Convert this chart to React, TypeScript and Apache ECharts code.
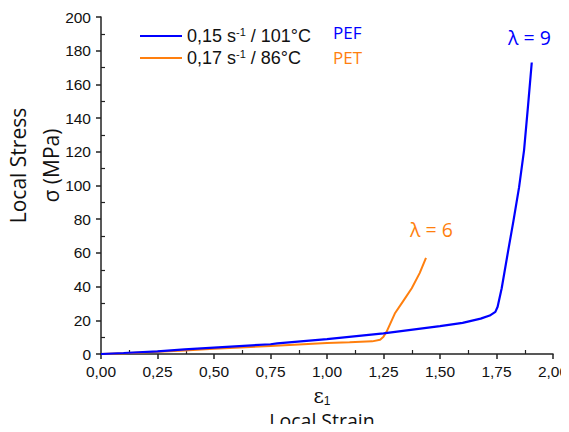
import React, { useEffect, useRef } from "react";
import * as echarts from "echarts";

// PEF: 0,15 s-1 / 101°C
const pefStrain = [0, 0.1, 0.25, 0.37, 0.5, 0.75, 0.78, 1.0, 1.25, 1.5, 1.6, 1.68, 1.72, 1.745, 1.755, 1.773, 1.8, 1.825, 1.85, 1.872, 1.89, 1.906];
const pefStress = [0, 0.6, 1.6, 2.8, 3.8, 5.8, 6.3, 8.8, 12.2, 16.5, 18.5, 21, 22.8, 25, 28, 39, 60, 79, 99, 121, 148, 173];

// PET: 0,17 s-1 / 86°C
const petStrain = [0, 0.1, 0.25, 0.37, 0.5, 0.75, 1.0, 1.1, 1.2, 1.235, 1.25, 1.264, 1.3, 1.34, 1.375, 1.41, 1.438];
const petStress = [0, 0.5, 1.4, 2.1, 3.1, 4.8, 6.5, 6.9, 7.5, 8.5, 10.3, 13.3, 24, 32, 39, 48, 57];

const seriesNames = ["0,15 s{sup|-1} / 101°C", "0,17 s{sup|-1} / 86°C"];
const materialLabels = ["PEF", "PET"];
const stretchLabels = ["λ = 9", "λ = 6"];

const BLUE = "#0000ff";
const ORANGE = "#ff7f0e";

const zip = (xs: number[], ys: number[]) => xs.map((x, i) => [x, ys[i]]);

export default function App() {
  const ref = useRef<HTMLDivElement>(null);
  useEffect(() => {
    if (!ref.current) return;
    const chart = echarts.init(ref.current, null, { renderer: "svg" });
    const tickFont = { fontSize: 15.5, fontFamily: "Liberation Sans, Arial, sans-serif", color: "#111" };
    const axisLine = { show: true, lineStyle: { color: "#222", width: 1.5 } };
    chart.setOption({
      animation: false,
      backgroundColor: "#fff",
      grid: { left: 101, right: 16, top: 17, bottom: 78, containLabel: false, outerBoundsMode: "none" },
      legend: {
        orient: "vertical",
        left: 140,
        top: 26,
        padding: 0,
        itemWidth: 42,
        itemHeight: 2,
        itemGap: 2,
        icon: "rect",
        data: seriesNames,
        formatter: (n: string) => n,
        textStyle: {
          fontSize: 18,
          lineHeight: 20,
          fontFamily: "Liberation Sans, Arial, sans-serif",
          color: "#111",
          rich: {
            sup: { fontSize: 11, lineHeight: 20, verticalAlign: "top", fontFamily: "Liberation Sans, Arial, sans-serif", color: "#111" },
          },
        },
      },
      xAxis: [
        {
          type: "value",
          min: 0,
          max: 2,
          interval: 0.25,
          axisLine,
          axisTick: { show: true, inside: false, length: 5, lineStyle: { color: "#222", width: 1.5 } },
          splitLine: { show: false },
          axisLabel: { ...tickFont, margin: 9, formatter: (v: number) => v.toFixed(2).replace(".", ",") },
          name: "{e|ε}{s|1}\n{n|Local Strain}",
          nameLocation: "middle",
          nameGap: 31,
          nameMoveOverlap: false,
          nameTextStyle: {
            padding: [0, 10, 0, 0],
            rich: {
              e: { fontSize: 20, lineHeight: 22, fontFamily: "DejaVu Serif, serif", color: "#111" },
              s: { fontSize: 12, lineHeight: 22, verticalAlign: "bottom", fontFamily: "Liberation Sans, Arial", color: "#111" },
              n: { fontSize: 19.5, lineHeight: 26, fontFamily: "Open Sans, sans-serif", color: "#111" },
            },
          },
        },
        {
          type: "value",
          min: 0,
          max: 2,
          interval: 0.25,
          position: "bottom",
          axisLine: { show: false },
          axisTick: { show: false, inside: true },
          minorTick: { show: true, splitNumber: 2, length: 4, lineStyle: { color: "#222", width: 1.2 } },
          axisLabel: { show: false },
          splitLine: { show: false },
        },
      ],
      yAxis: [
        {
          type: "value",
          min: 0,
          max: 200,
          interval: 20,
          axisLine,
          axisTick: { show: true, inside: false, length: 5, lineStyle: { color: "#222", width: 1.5 } },
          splitLine: { show: false },
          axisLabel: { ...tickFont, margin: 10 },
          name: "Local Stress\nσ (MPa)",
          nameLocation: "middle",
          nameRotate: 90,
          nameGap: 34,
          nameMoveOverlap: false,
          nameTextStyle: { fontSize: 21, lineHeight: 33, padding: [0, 0, 0, 40], fontFamily: "Open Sans, sans-serif", color: "#111" },
        },
        {
          type: "value",
          min: 0,
          max: 200,
          interval: 20,
          position: "left",
          axisLine: { show: false },
          axisTick: { show: false, inside: true },
          minorTick: { show: true, splitNumber: 2, length: 4, lineStyle: { color: "#222", width: 1.2 } },
          axisLabel: { show: false },
          splitLine: { show: false },
        },
      ],
      series: [
        {
          name: seriesNames[0],
          type: "line",
          symbol: "none",
          data: zip(pefStrain, pefStress),
          lineStyle: { color: BLUE, width: 2.2 },
          itemStyle: { color: BLUE },
          z: 3,
        },
        {
          name: seriesNames[1],
          type: "line",
          symbol: "none",
          data: zip(petStrain, petStress),
          lineStyle: { color: ORANGE, width: 2 },
          itemStyle: { color: ORANGE },
          z: 2,
        },
      ],
      graphic: [
        { type: "text", left: 333, top: 24, style: { text: materialLabels[0], fill: BLUE, fontSize: 17, fontFamily: "Open Sans, sans-serif" } },
        { type: "text", left: 333, top: 49, style: { text: materialLabels[1], fill: ORANGE, fontSize: 17, fontFamily: "Open Sans, sans-serif" } },
        { type: "text", left: 508, top: 27, style: { text: stretchLabels[0], fill: BLUE, fontSize: 19.5, fontFamily: "Open Sans, sans-serif" } },
        { type: "text", left: 410, top: 219, style: { text: stretchLabels[1], fill: ORANGE, fontSize: 19.5, fontFamily: "Open Sans, sans-serif" } },
      ],
    });
    return () => chart.dispose();
  }, []);
  return <div ref={ref} style={{ width: 569, height: 432, margin: -8 }} />;
}
